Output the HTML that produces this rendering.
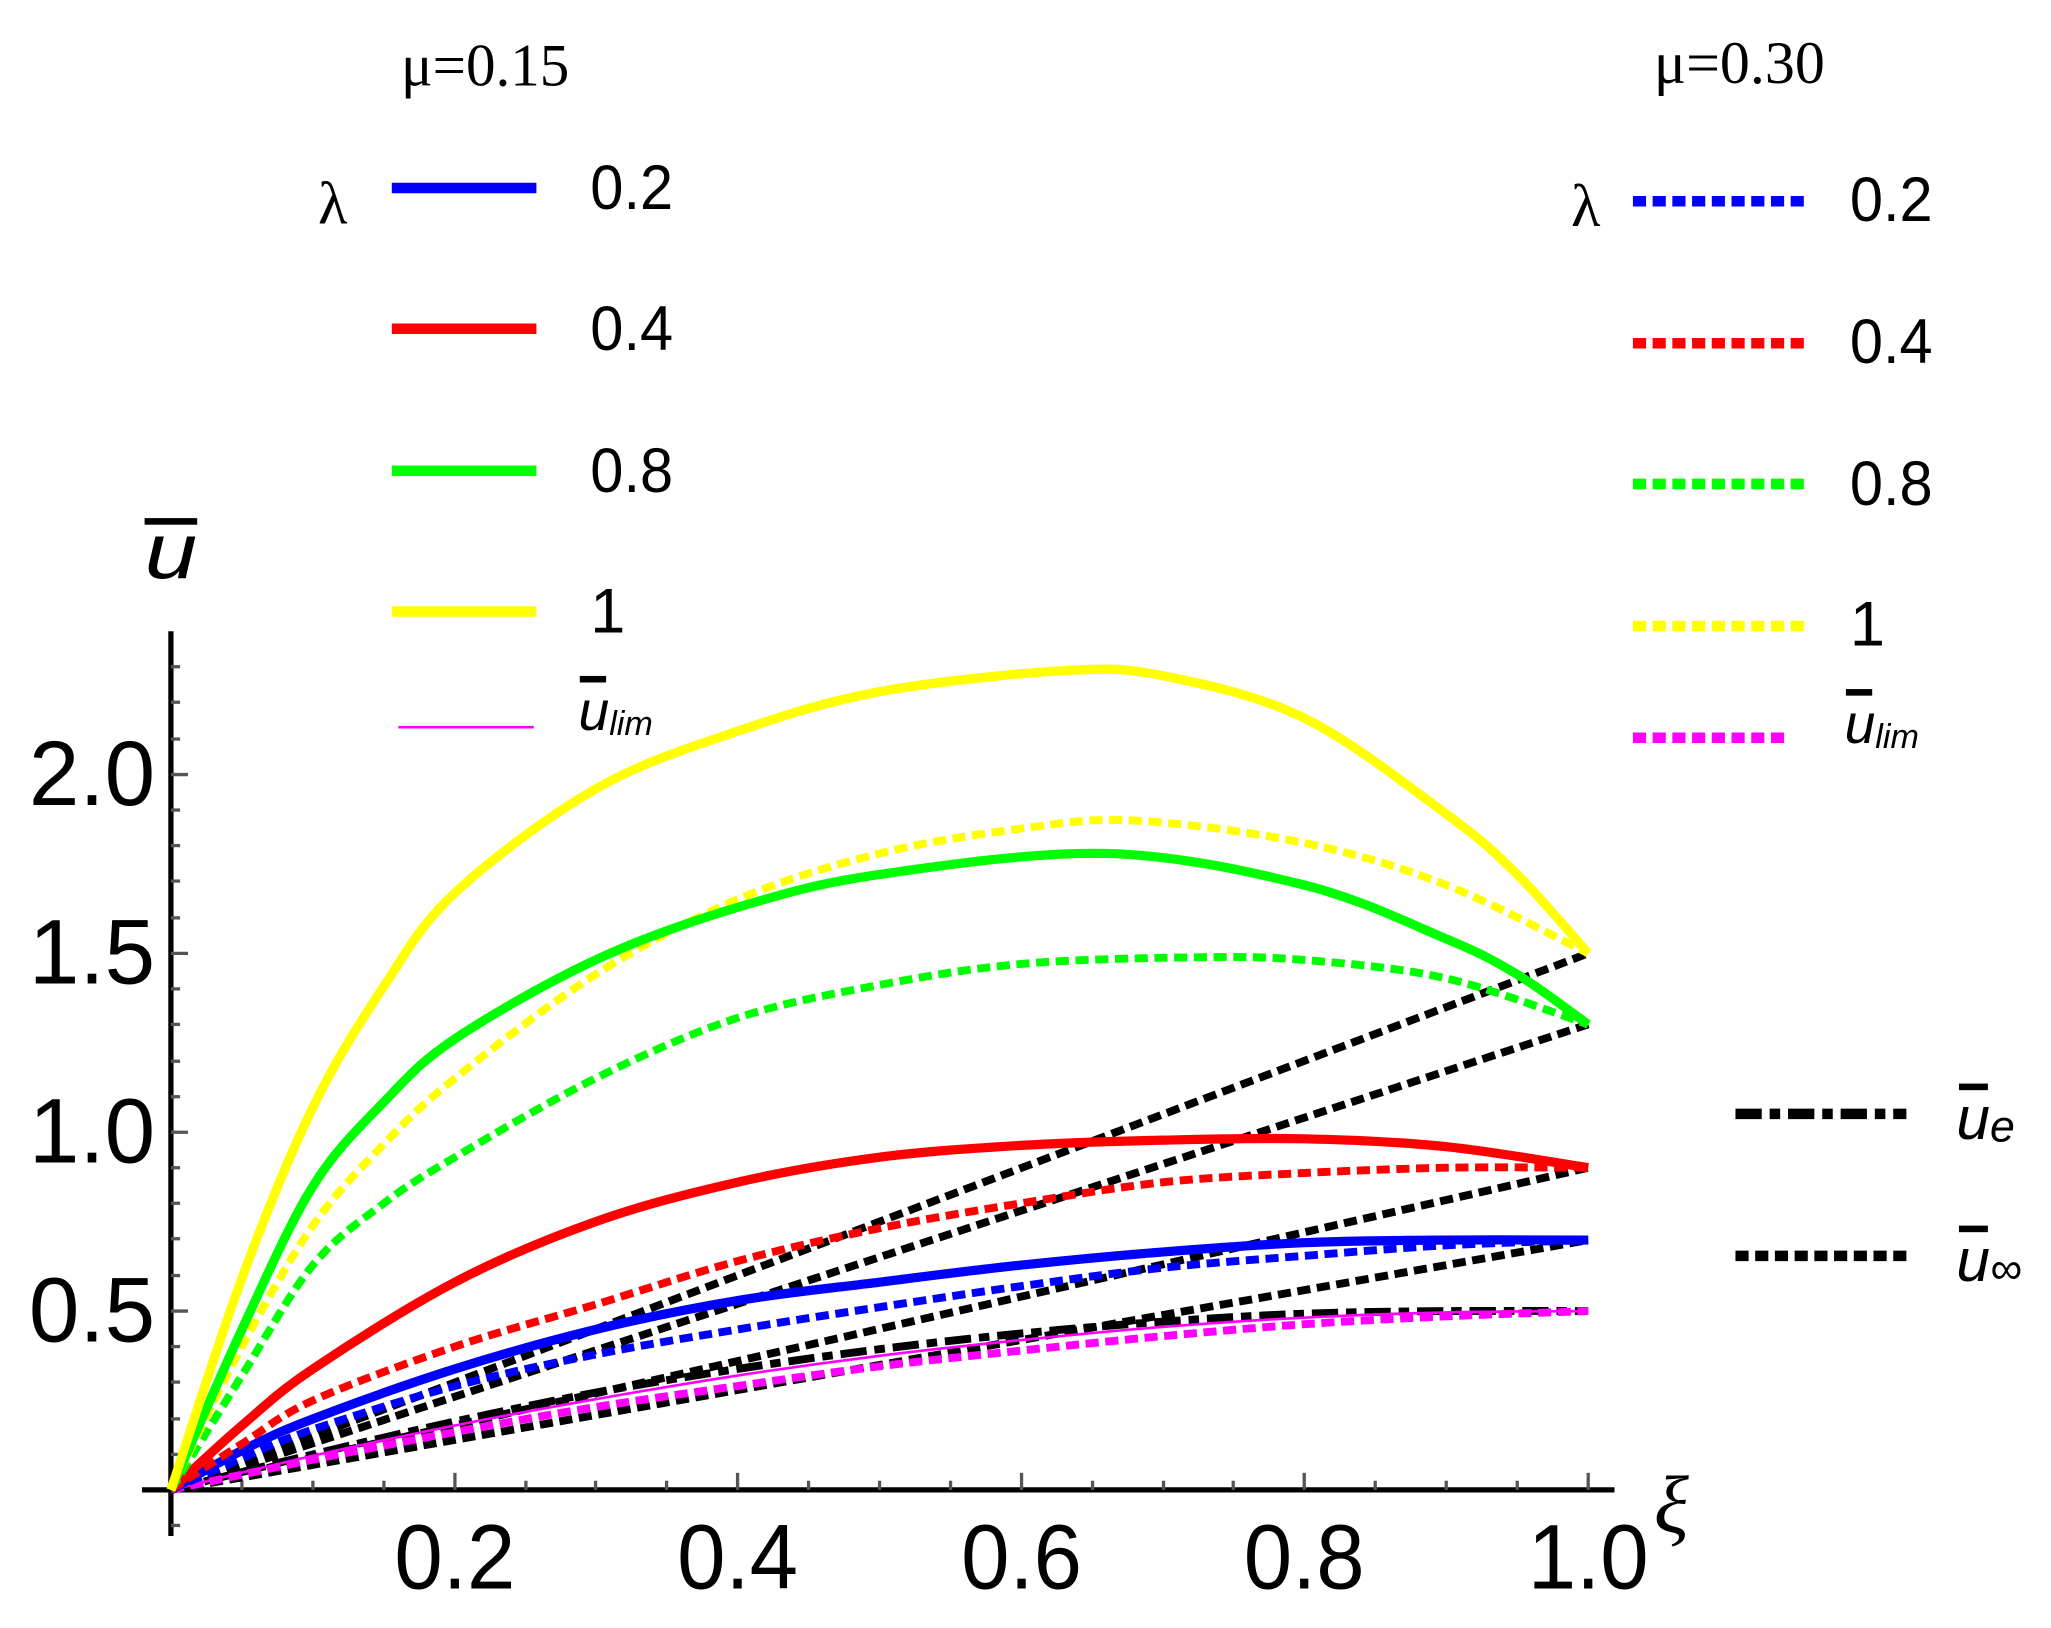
<!DOCTYPE html>
<html><head><meta charset="utf-8"><style>
html,body{margin:0;padding:0;background:#fff;}
svg{display:block;}
text{font-family:"Liberation Sans",sans-serif;fill:#000;}
.s{font-family:"Liberation Serif",serif;}
</style></head><body>
<svg id="g" width="2051" height="1628" viewBox="0 0 1560 1238" preserveAspectRatio="none" xmlns="http://www.w3.org/2000/svg">
<rect width="1560" height="1238" fill="#fff"/>
<g stroke="#000" stroke-width="4" fill="none">
<line x1="108" y1="1133" x2="1228" y2="1133"/>
<line x1="130" y1="480" x2="130" y2="1168"/>
</g>
<g stroke="#555" stroke-width="2.5">
<line x1="346" y1="1133" x2="346" y2="1120"/><line x1="561" y1="1133" x2="561" y2="1120"/><line x1="777" y1="1133" x2="777" y2="1120"/><line x1="992" y1="1133" x2="992" y2="1120"/><line x1="1208" y1="1133" x2="1208" y2="1120"/>
<line x1="184" y1="1133" x2="184" y2="1126"/><line x1="238" y1="1133" x2="238" y2="1126"/><line x1="292" y1="1133" x2="292" y2="1126"/><line x1="400" y1="1133" x2="400" y2="1126"/><line x1="453" y1="1133" x2="453" y2="1126"/><line x1="507" y1="1133" x2="507" y2="1126"/><line x1="615" y1="1133" x2="615" y2="1126"/><line x1="669" y1="1133" x2="669" y2="1126"/><line x1="723" y1="1133" x2="723" y2="1126"/><line x1="831" y1="1133" x2="831" y2="1126"/><line x1="885" y1="1133" x2="885" y2="1126"/><line x1="938" y1="1133" x2="938" y2="1126"/><line x1="1046" y1="1133" x2="1046" y2="1126"/><line x1="1100" y1="1133" x2="1100" y2="1126"/><line x1="1154" y1="1133" x2="1154" y2="1126"/>
<line x1="130" y1="997" x2="143" y2="997"/><line x1="130" y1="861" x2="143" y2="861"/><line x1="130" y1="725" x2="143" y2="725"/><line x1="130" y1="589" x2="143" y2="589"/>
<line x1="130" y1="1106" x2="137" y2="1106"/><line x1="130" y1="1079" x2="137" y2="1079"/><line x1="130" y1="1051" x2="137" y2="1051"/><line x1="130" y1="1024" x2="137" y2="1024"/><line x1="130" y1="970" x2="137" y2="970"/><line x1="130" y1="942" x2="137" y2="942"/><line x1="130" y1="915" x2="137" y2="915"/><line x1="130" y1="888" x2="137" y2="888"/><line x1="130" y1="834" x2="137" y2="834"/><line x1="130" y1="807" x2="137" y2="807"/><line x1="130" y1="779" x2="137" y2="779"/><line x1="130" y1="752" x2="137" y2="752"/><line x1="130" y1="698" x2="137" y2="698"/><line x1="130" y1="670" x2="137" y2="670"/><line x1="130" y1="643" x2="137" y2="643"/><line x1="130" y1="616" x2="137" y2="616"/><line x1="130" y1="562" x2="137" y2="562"/><line x1="130" y1="534" x2="137" y2="534"/><line x1="130" y1="507" x2="137" y2="507"/>
<line x1="130" y1="1160" x2="137" y2="1160"/>
</g>
<g font-size="70" text-anchor="middle">
<text x="346" y="1208" textLength="92" lengthAdjust="spacingAndGlyphs">0.2</text>
<text x="561" y="1208" textLength="92" lengthAdjust="spacingAndGlyphs">0.4</text>
<text x="777" y="1208" textLength="92" lengthAdjust="spacingAndGlyphs">0.6</text>
<text x="992" y="1208" textLength="92" lengthAdjust="spacingAndGlyphs">0.8</text>
<text x="1208" y="1208" textLength="92" lengthAdjust="spacingAndGlyphs">1.0</text>
</g>
<g font-size="70">
<text x="22" y="1020" textLength="96" lengthAdjust="spacingAndGlyphs">0.5</text>
<text x="22" y="884" textLength="96" lengthAdjust="spacingAndGlyphs">1.0</text>
<text x="22" y="748" textLength="96" lengthAdjust="spacingAndGlyphs">1.5</text>
<text x="22" y="612" textLength="96" lengthAdjust="spacingAndGlyphs">2.0</text>
</g>
<text x="1258" y="1165" font-size="62" font-style="italic" class="s">ξ</text>
<text x="110" y="440" font-size="60" font-style="italic" textLength="40" lengthAdjust="spacingAndGlyphs">u</text>
<rect x="110" y="394" width="40" height="5" fill="#000"/>

<g fill="none" stroke-linejoin="round" stroke-linecap="butt">
<g stroke="#000" stroke-width="6" stroke-dasharray="10,5">
<line x1="130" y1="1133" x2="1208" y2="725"/>
<line x1="130" y1="1133" x2="1208" y2="779"/>
<line x1="130" y1="1133" x2="1208" y2="888"/>
<line x1="130" y1="1133" x2="1208" y2="943"/>
</g>
<polyline class="sm" stroke="#000" stroke-width="6" stroke-dasharray="20,6,8,6" points="130,1133 238,1106 346,1081 453,1059 561,1041 669,1026 777,1014 885,1005 992,999 1100,997 1208,997"/>
<polyline class="sm" stroke="#ff00ff" stroke-width="2" points="130,1133 238,1107 346,1084 453,1064 561,1046 669,1031 777,1019 885,1009 992,1002 1100,998 1208,997"/>
<polyline class="sm" stroke="#ff00ff" stroke-width="6" stroke-dasharray="10,5" points="130,1133 238,1110 346,1089 453,1070 561,1054 669,1039 777,1027 885,1016 992,1007 1100,1001 1208,997"/>
<polyline class="sm" stroke="#0000ff" stroke-width="6" stroke-dasharray="10,5" points="130,1133 184,1109 238,1087 346,1054 453,1030 561,1011 669,994 777,978 885,964 992,955 1100,947 1208,943"/>
<polyline class="sm" stroke="#0000ff" stroke-width="7" points="130,1133 184,1103 238,1079 346,1041 453,1011 561,989 669,975 777,962 885,952 992,945 1100,943 1208,943"/>
<polyline class="sm" stroke="#ff0000" stroke-width="6" stroke-dasharray="10,5" points="130,1133 184,1098 238,1065 346,1024 453,992 561,959 669,934 777,915 885,899 992,892 1100,888 1208,888"/>
<polyline class="sm" stroke="#ff0000" stroke-width="7" points="130,1133 184,1084 238,1041 346,975 453,929 561,899 669,880 777,871 885,867 992,866 1100,872 1208,888"/>
<polyline class="sm" stroke="#00ff00" stroke-width="6" stroke-dasharray="10,5" points="130,1133 184,1046 238,962 292,915 346,880 453,820 561,774 669,749 777,733 906,728 992,730 1100,744 1208,779"/>
<polyline class="sm" stroke="#ffff00" stroke-width="6" stroke-dasharray="10,5" points="130,1133 184,1024 238,932 292,870 346,820 453,741 561,684 669,649 777,630 863,624 992,641 1100,673 1208,725"/>
<polyline class="sm" stroke="#00ff00" stroke-width="7" points="130,1133 184,1011 238,902 292,838 346,790 453,730 561,690 669,665 841,649 992,673 1100,714 1154,741 1208,779"/>
<polyline class="sm" stroke="#ffff00" stroke-width="7" points="130,1133 184,972 238,842 292,750 346,679 453,600 561,556 669,526 809,510 885,514 992,546 1100,619 1154,665 1208,725"/>
</g>

<text x="305" y="65" font-size="46" class="s" textLength="128" lengthAdjust="spacingAndGlyphs">μ=0.15</text>
<text x="242" y="170" font-size="46" class="s">λ</text>
<g stroke-width="8">
<line x1="298" y1="143" x2="408" y2="143" stroke="#0000ff"/>
<line x1="298" y1="250" x2="408" y2="250" stroke="#ff0000"/>
<line x1="298" y1="358" x2="408" y2="358" stroke="#00ff00"/>
<line x1="298" y1="465" x2="408" y2="465" stroke="#ffff00"/>
</g>
<line x1="303" y1="553" x2="406" y2="553" stroke="#ff00ff" stroke-width="2"/>
<g font-size="48">
<text x="449" y="159" textLength="63" lengthAdjust="spacingAndGlyphs">0.2</text>
<text x="449" y="266" textLength="63" lengthAdjust="spacingAndGlyphs">0.4</text>
<text x="449" y="374" textLength="63" lengthAdjust="spacingAndGlyphs">0.8</text>
<text x="449" y="481">1</text>
</g>
<text x="440" y="555" font-size="42" font-style="italic">u<tspan font-size="26" dy="4">lim</tspan></text>
<rect x="441" y="514" width="20" height="5" fill="#000"/>

<text x="1258" y="63" font-size="46" class="s" textLength="130" lengthAdjust="spacingAndGlyphs">μ=0.30</text>
<text x="1195" y="172" font-size="46" class="s">λ</text>
<g stroke-width="8" stroke-dasharray="10,5">
<line x1="1242" y1="153" x2="1377" y2="153" stroke="#0000ff"/>
<line x1="1242" y1="261" x2="1377" y2="261" stroke="#ff0000"/>
<line x1="1242" y1="368" x2="1377" y2="368" stroke="#00ff00"/>
<line x1="1242" y1="476" x2="1377" y2="476" stroke="#ffff00"/>
<line x1="1242" y1="561" x2="1362" y2="561" stroke="#ff00ff"/>
</g>
<g font-size="48">
<text x="1407" y="168" textLength="63" lengthAdjust="spacingAndGlyphs">0.2</text>
<text x="1407" y="276" textLength="63" lengthAdjust="spacingAndGlyphs">0.4</text>
<text x="1407" y="384" textLength="63" lengthAdjust="spacingAndGlyphs">0.8</text>
<text x="1407" y="491">1</text>
</g>
<text x="1403" y="565" font-size="42" font-style="italic">u<tspan font-size="26" dy="4">lim</tspan></text>
<rect x="1404" y="524" width="20" height="5" fill="#000"/>

<line x1="1320" y1="847" x2="1450" y2="847" stroke="#000" stroke-width="8" stroke-dasharray="20,6,8,6"/>
<line x1="1320" y1="955" x2="1453" y2="955" stroke="#000" stroke-width="8" stroke-dasharray="10,5"/>
<text x="1488" y="866" font-size="46" font-style="italic">u<tspan font-size="34" dy="2">e</tspan></text>
<rect x="1490" y="824" width="22" height="5" fill="#000"/>
<text x="1488" y="974" font-size="46" font-style="italic">u<tspan font-size="34" dy="2">∞</tspan></text>
<rect x="1490" y="932" width="22" height="5" fill="#000"/>
</svg>
<script>
(function(){
var NS="http://www.w3.org/2000/svg";
var els=document.querySelectorAll("polyline.sm");
for(var i=0;i<els.length;i++){
 var pl=els[i];
 var pts=pl.getAttribute("points").trim().split(/\s+/).map(function(s){return s.split(",").map(Number);});
 var d="M"+pts[0][0]+","+pts[0][1];
 for(var k=0;k<pts.length-1;k++){
  var p0=pts[k-1]||pts[k],p1=pts[k],p2=pts[k+1],p3=pts[k+2]||p2;
  var c1x=p1[0]+(p2[0]-p0[0])/6,c1y=p1[1]+(p2[1]-p0[1])/6;
  var c2x=p2[0]-(p3[0]-p1[0])/6,c2y=p2[1]-(p3[1]-p1[1])/6;
  d+=" C"+c1x.toFixed(1)+","+c1y.toFixed(1)+" "+c2x.toFixed(1)+","+c2y.toFixed(1)+" "+p2[0]+","+p2[1];
 }
 var p=document.createElementNS(NS,"path");
 ["stroke","stroke-width","stroke-dasharray"].forEach(function(a){var v=pl.getAttribute(a);if(v)p.setAttribute(a,v);});
 p.setAttribute("fill","none");
 p.setAttribute("d",d);
 pl.parentNode.replaceChild(p,pl);
}
})();
</script>
</body></html>
